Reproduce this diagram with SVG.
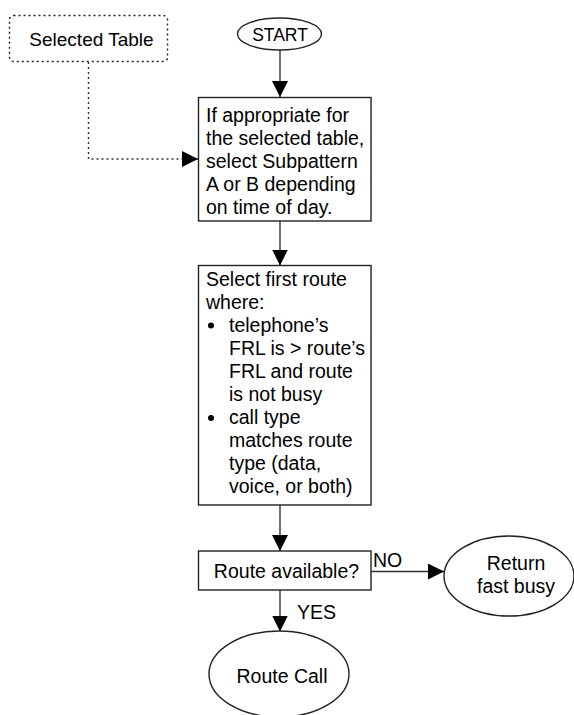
<svg xmlns="http://www.w3.org/2000/svg" width="574" height="715" viewBox="0 0 574 715">
<defs>
<style>
text { font-family: "Liberation Sans", Arial, sans-serif; font-size: 19.5px; fill: #000; }
.shape { fill: #fff; stroke: #222; stroke-width: 1.4; }
.dotted { fill: #fff; stroke: #222; stroke-width: 1.4; stroke-dasharray: 2 3; }
.conn { fill: none; stroke: #333; stroke-width: 1.4; }
.conn-dot { fill: none; stroke: #333; stroke-width: 1.4; stroke-dasharray: 2 3; }
.mid { text-anchor: middle; }
</style>
<marker id="arrow" viewBox="0 0 16 16" refX="16" refY="8" markerWidth="16" markerHeight="16" markerUnits="userSpaceOnUse" orient="auto">
<path d="M0,0 L16,8 L0,16 Z" fill="#000"/>
</marker>
</defs>
<rect width="574" height="715" fill="#fff"/>
<g id="connectors">
<line class="conn" x1="280" y1="50" x2="280" y2="97" marker-end="url(#arrow)"/>
<polyline class="conn-dot" points="88.5,62 88.5,159 198,159" marker-end="url(#arrow)"/>
<line class="conn" x1="280" y1="221" x2="280" y2="265.5" marker-end="url(#arrow)"/>
<line class="conn" x1="280" y1="505" x2="280" y2="551" marker-end="url(#arrow)"/>
<line class="conn" x1="371" y1="571.5" x2="444" y2="571.5" marker-end="url(#arrow)"/>
<line class="conn" x1="280" y1="590" x2="280" y2="631.5" marker-end="url(#arrow)"/>
<text x="373" y="567">NO</text>
<text x="297" y="619">YES</text>
</g>
<g id="selected-table">
<rect class="dotted" x="9.5" y="15.5" width="158" height="46" rx="4"/>
<text class="mid" x="91.5" y="45.5" style="font-size:19px">Selected Table</text>
</g>
<g id="start">
<ellipse class="shape" cx="279.5" cy="34" rx="42" ry="16"/>
<text class="mid" x="280" y="41" style="font-size:17.5px">START</text>
</g>
<g id="select-subpattern">
<rect class="shape" x="198.5" y="97.5" width="172.5" height="123.5"/>
<text x="206" y="121.5">If appropriate for</text>
<text x="206" y="144.7">the selected table,</text>
<text x="206" y="167.9">select Subpattern</text>
<text x="206" y="191.1">A or B depending</text>
<text x="206" y="214.3">on time of day.</text>
</g>
<g id="select-route">
<rect class="shape" x="198.5" y="265.5" width="172.5" height="239.5"/>
<text x="206" y="285.5">Select first route</text>
<text x="206" y="308.6">where:</text>
<circle cx="211" cy="325.5" r="3" fill="#000"/>
<text x="229" y="331.7">telephone’s</text>
<text x="229" y="354.8">FRL is &gt; route’s</text>
<text x="229" y="377.9">FRL and route</text>
<text x="229" y="401">is not busy</text>
<circle cx="211" cy="418" r="3" fill="#000"/>
<text x="229" y="424.1">call type</text>
<text x="229" y="447.2">matches route</text>
<text x="229" y="470.3">type (data,</text>
<text x="229" y="493.4">voice, or both)</text>
</g>
<g id="route-available">
<rect class="shape" x="198.5" y="551" width="172.5" height="39"/>
<text class="mid" x="286.5" y="578">Route available?</text>
</g>
<g id="return-fast-busy">
<ellipse class="shape" cx="509" cy="576" rx="65" ry="40"/>
<text class="mid" x="516" y="570">Return</text>
<text class="mid" x="516" y="593">fast busy</text>
</g>
<g id="route-call">
<ellipse class="shape" cx="279" cy="674" rx="70" ry="43"/>
<text class="mid" x="282" y="683">Route Call</text>
</g>
</svg>
